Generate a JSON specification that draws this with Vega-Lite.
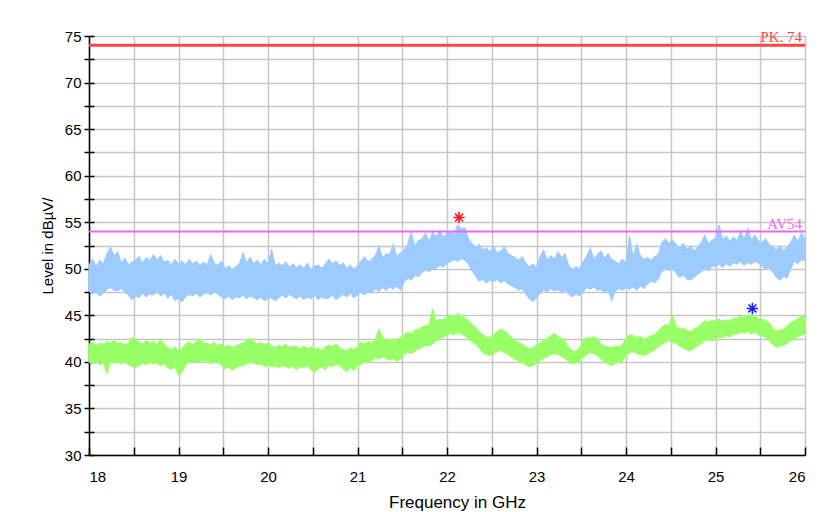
{
"$schema": "https://vega.github.io/schema/vega-lite/v6.json",
"autosize": "none",
"width": 716,
"height": 419,
"padding": {"left": 89, "top": 36, "right": 17, "bottom": 57},
"background": "white",
"config": {"view": {"stroke": null}, "font": "Liberation Sans"},
"datasets": {
"trace": [
{"f":18.00,"b0":47.6,"b1":50.4,"g0":40.0,"g1":41.9},
{"f":18.04,"b0":47.3,"b1":51.0,"g0":39.8,"g1":42.1},
{"f":18.08,"b0":47.5,"b1":50.2,"g0":40.1,"g1":41.7},
{"f":18.12,"b0":47.1,"b1":50.9,"g0":39.7,"g1":42.0},
{"f":18.16,"b0":47.4,"b1":50.5,"g0":39.9,"g1":41.8},
{"f":18.20,"b0":47.8,"b1":51.6,"g0":38.8,"g1":42.2},
{"f":18.24,"b0":48.0,"b1":52.3,"g0":40.0,"g1":42.0},
{"f":18.28,"b0":47.7,"b1":51.4,"g0":39.9,"g1":42.3},
{"f":18.32,"b0":47.6,"b1":51.8,"g0":40.1,"g1":41.9},
{"f":18.36,"b0":47.9,"b1":50.6,"g0":39.8,"g1":42.1},
{"f":18.40,"b0":47.5,"b1":51.1,"g0":40.0,"g1":41.8},
{"f":18.44,"b0":47.2,"b1":50.4,"g0":39.7,"g1":42.0},
{"f":18.48,"b0":46.7,"b1":50.7,"g0":39.5,"g1":42.6},
{"f":18.52,"b0":47.1,"b1":50.9,"g0":39.4,"g1":42.4},
{"f":18.56,"b0":46.9,"b1":51.3,"g0":39.6,"g1":42.1},
{"f":18.60,"b0":47.4,"b1":50.6,"g0":39.9,"g1":41.9},
{"f":18.64,"b0":47.0,"b1":51.2,"g0":39.7,"g1":42.3},
{"f":18.68,"b0":47.3,"b1":50.8,"g0":40.0,"g1":42.0},
{"f":18.72,"b0":47.2,"b1":51.5,"g0":39.8,"g1":42.2},
{"f":18.76,"b0":47.6,"b1":50.9,"g0":39.9,"g1":41.8},
{"f":18.80,"b0":47.1,"b1":51.4,"g0":39.6,"g1":42.4},
{"f":18.84,"b0":47.4,"b1":50.7,"g0":39.8,"g1":41.9},
{"f":18.88,"b0":46.9,"b1":50.9,"g0":39.4,"g1":41.5},
{"f":18.92,"b0":47.3,"b1":50.4,"g0":39.2,"g1":41.3},
{"f":18.96,"b0":46.6,"b1":51.0,"g0":39.5,"g1":41.6},
{"f":19.00,"b0":46.8,"b1":50.5,"g0":38.6,"g1":41.2},
{"f":19.04,"b0":46.5,"b1":50.8,"g0":38.9,"g1":41.4},
{"f":19.08,"b0":47.0,"b1":50.4,"g0":39.8,"g1":41.9},
{"f":19.12,"b0":47.3,"b1":51.0,"g0":40.0,"g1":42.1},
{"f":19.16,"b0":47.1,"b1":50.5,"g0":39.9,"g1":41.8},
{"f":19.20,"b0":47.4,"b1":50.8,"g0":40.1,"g1":42.2},
{"f":19.24,"b0":47.0,"b1":50.3,"g0":40.0,"g1":42.4},
{"f":19.28,"b0":47.3,"b1":50.7,"g0":40.2,"g1":42.0},
{"f":19.32,"b0":47.5,"b1":50.4,"g0":40.0,"g1":42.0},
{"f":19.36,"b0":47.2,"b1":51.5,"g0":39.8,"g1":41.8},
{"f":19.40,"b0":47.6,"b1":50.6,"g0":40.1,"g1":42.1},
{"f":19.44,"b0":47.3,"b1":50.3,"g0":39.9,"g1":41.7},
{"f":19.48,"b0":47.0,"b1":50.8,"g0":39.7,"g1":41.9},
{"f":19.52,"b0":46.8,"b1":50.0,"g0":39.3,"g1":41.6},
{"f":19.56,"b0":47.1,"b1":50.3,"g0":39.5,"g1":41.8},
{"f":19.60,"b0":46.7,"b1":49.9,"g0":39.1,"g1":41.5},
{"f":19.64,"b0":47.0,"b1":50.2,"g0":39.4,"g1":41.7},
{"f":19.68,"b0":46.9,"b1":50.5,"g0":39.6,"g1":41.9},
{"f":19.72,"b0":47.2,"b1":51.7,"g0":39.6,"g1":42.0},
{"f":19.76,"b0":46.8,"b1":50.6,"g0":39.8,"g1":42.3},
{"f":19.80,"b0":47.1,"b1":51.2,"g0":40.0,"g1":42.5},
{"f":19.84,"b0":46.9,"b1":50.5,"g0":39.9,"g1":42.2},
{"f":19.88,"b0":46.7,"b1":50.9,"g0":39.7,"g1":41.9},
{"f":19.92,"b0":47.0,"b1":50.4,"g0":39.8,"g1":42.1},
{"f":19.96,"b0":46.6,"b1":51.0,"g0":39.5,"g1":41.8},
{"f":20.00,"b0":46.8,"b1":50.5,"g0":39.7,"g1":42.0},
{"f":20.04,"b0":46.9,"b1":52.1,"g0":39.5,"g1":41.7},
{"f":20.08,"b0":46.6,"b1":50.3,"g0":39.6,"g1":41.5},
{"f":20.12,"b0":46.9,"b1":50.6,"g0":39.4,"g1":41.8},
{"f":20.16,"b0":47.2,"b1":50.3,"g0":39.6,"g1":41.6},
{"f":20.20,"b0":46.9,"b1":50.7,"g0":39.5,"g1":41.9},
{"f":20.24,"b0":47.3,"b1":50.2,"g0":39.3,"g1":41.5},
{"f":20.28,"b0":47.0,"b1":50.5,"g0":39.6,"g1":41.7},
{"f":20.32,"b0":46.8,"b1":50.1,"g0":39.2,"g1":41.6},
{"f":20.36,"b0":47.1,"b1":50.4,"g0":39.5,"g1":41.4},
{"f":20.40,"b0":46.7,"b1":50.0,"g0":39.4,"g1":41.7},
{"f":20.44,"b0":47.0,"b1":50.6,"g0":39.6,"g1":41.4},
{"f":20.48,"b0":46.8,"b1":49.9,"g0":39.2,"g1":41.6},
{"f":20.52,"b0":47.2,"b1":50.3,"g0":38.9,"g1":41.3},
{"f":20.56,"b0":46.7,"b1":50.4,"g0":39.3,"g1":41.5},
{"f":20.60,"b0":47.0,"b1":50.0,"g0":39.5,"g1":41.2},
{"f":20.64,"b0":46.8,"b1":50.5,"g0":39.2,"g1":41.6},
{"f":20.68,"b0":46.9,"b1":51.0,"g0":39.7,"g1":41.8},
{"f":20.72,"b0":47.2,"b1":50.5,"g0":39.5,"g1":41.6},
{"f":20.76,"b0":46.7,"b1":50.8,"g0":39.8,"g1":41.9},
{"f":20.80,"b0":47.0,"b1":50.3,"g0":39.6,"g1":41.5},
{"f":20.84,"b0":47.3,"b1":50.6,"g0":39.3,"g1":41.3},
{"f":20.88,"b0":47.0,"b1":50.0,"g0":39.0,"g1":41.2},
{"f":20.92,"b0":47.4,"b1":50.4,"g0":39.4,"g1":41.5},
{"f":20.96,"b0":46.9,"b1":49.9,"g0":39.1,"g1":41.3},
{"f":21.00,"b0":47.2,"b1":50.3,"g0":39.6,"g1":41.6},
{"f":21.04,"b0":47.5,"b1":50.8,"g0":39.8,"g1":42.1},
{"f":21.08,"b0":47.2,"b1":51.3,"g0":40.0,"g1":41.9},
{"f":21.12,"b0":47.6,"b1":50.7,"g0":39.9,"g1":42.2},
{"f":21.16,"b0":47.4,"b1":51.0,"g0":40.2,"g1":42.0},
{"f":21.20,"b0":47.9,"b1":51.4,"g0":40.5,"g1":42.4},
{"f":21.24,"b0":47.6,"b1":52.4,"g0":40.3,"g1":43.5},
{"f":21.28,"b0":48.0,"b1":51.1,"g0":40.6,"g1":42.6},
{"f":21.32,"b0":47.7,"b1":51.6,"g0":40.4,"g1":42.3},
{"f":21.36,"b0":48.1,"b1":51.5,"g0":40.2,"g1":42.5},
{"f":21.40,"b0":47.8,"b1":52.6,"g0":40.4,"g1":42.2},
{"f":21.44,"b0":48.2,"b1":51.3,"g0":40.1,"g1":42.4},
{"f":21.48,"b0":47.7,"b1":51.7,"g0":40.3,"g1":42.6},
{"f":21.52,"b0":48.6,"b1":52.0,"g0":40.8,"g1":42.9},
{"f":21.56,"b0":49.0,"b1":52.6,"g0":41.1,"g1":43.2},
{"f":21.60,"b0":48.8,"b1":53.9,"g0":40.9,"g1":43.0},
{"f":21.64,"b0":49.3,"b1":52.4,"g0":41.2,"g1":43.4},
{"f":21.68,"b0":49.2,"b1":53.0,"g0":41.4,"g1":43.5},
{"f":21.72,"b0":49.6,"b1":53.2,"g0":41.6,"g1":43.7},
{"f":21.76,"b0":49.9,"b1":53.8,"g0":41.8,"g1":43.9},
{"f":21.80,"b0":49.7,"b1":52.9,"g0":41.7,"g1":44.0},
{"f":21.84,"b0":50.0,"b1":53.9,"g0":42.0,"g1":45.7},
{"f":21.88,"b0":50.1,"b1":53.4,"g0":42.3,"g1":44.3},
{"f":21.92,"b0":50.4,"b1":54.1,"g0":42.5,"g1":44.6},
{"f":21.96,"b0":50.2,"b1":53.3,"g0":42.7,"g1":44.5},
{"f":22.00,"b0":50.6,"b1":53.9,"g0":42.9,"g1":44.8},
{"f":22.04,"b0":50.8,"b1":54.0,"g0":43.1,"g1":45.0},
{"f":22.08,"b0":51.0,"b1":53.7,"g0":42.9,"g1":44.8},
{"f":22.12,"b0":50.8,"b1":54.7,"g0":43.2,"g1":45.2},
{"f":22.16,"b0":51.1,"b1":54.3,"g0":43.0,"g1":44.9},
{"f":22.20,"b0":50.9,"b1":54.4,"g0":42.8,"g1":44.7},
{"f":22.24,"b0":50.5,"b1":53.2,"g0":42.4,"g1":44.4},
{"f":22.28,"b0":49.8,"b1":52.7,"g0":42.2,"g1":44.0},
{"f":22.32,"b0":49.2,"b1":52.3,"g0":41.9,"g1":43.7},
{"f":22.36,"b0":48.7,"b1":52.6,"g0":41.5,"g1":43.2},
{"f":22.40,"b0":48.9,"b1":52.0,"g0":41.0,"g1":42.9},
{"f":22.44,"b0":48.5,"b1":52.2,"g0":40.8,"g1":42.7},
{"f":22.48,"b0":48.8,"b1":51.8,"g0":40.7,"g1":42.6},
{"f":22.52,"b0":48.6,"b1":52.4,"g0":40.9,"g1":42.9},
{"f":22.56,"b0":48.9,"b1":51.7,"g0":41.1,"g1":43.2},
{"f":22.60,"b0":48.5,"b1":51.9,"g0":41.3,"g1":43.5},
{"f":22.64,"b0":48.8,"b1":52.3,"g0":41.0,"g1":43.3},
{"f":22.68,"b0":48.4,"b1":51.6,"g0":40.8,"g1":43.0},
{"f":22.72,"b0":48.2,"b1":51.4,"g0":40.5,"g1":42.6},
{"f":22.76,"b0":48.0,"b1":51.2,"g0":40.3,"g1":42.3},
{"f":22.80,"b0":47.7,"b1":50.9,"g0":40.1,"g1":42.1},
{"f":22.84,"b0":47.9,"b1":51.3,"g0":39.9,"g1":41.9},
{"f":22.88,"b0":47.3,"b1":50.6,"g0":39.7,"g1":41.6},
{"f":22.92,"b0":46.8,"b1":50.2,"g0":39.5,"g1":41.4},
{"f":22.96,"b0":46.5,"b1":50.5,"g0":39.6,"g1":41.5},
{"f":23.00,"b0":46.9,"b1":50.1,"g0":39.9,"g1":41.8},
{"f":23.04,"b0":47.4,"b1":51.3,"g0":40.2,"g1":42.0},
{"f":23.08,"b0":47.8,"b1":52.0,"g0":40.4,"g1":42.3},
{"f":23.12,"b0":47.5,"b1":50.9,"g0":40.6,"g1":42.5},
{"f":23.16,"b0":47.9,"b1":51.4,"g0":40.8,"g1":42.8},
{"f":23.20,"b0":47.6,"b1":51.0,"g0":40.9,"g1":43.0},
{"f":23.24,"b0":47.8,"b1":51.8,"g0":40.8,"g1":42.7},
{"f":23.28,"b0":47.4,"b1":51.2,"g0":40.6,"g1":42.5},
{"f":23.32,"b0":47.7,"b1":51.6,"g0":40.4,"g1":42.2},
{"f":23.36,"b0":47.3,"b1":50.3,"g0":40.0,"g1":41.5},
{"f":23.40,"b0":47.0,"b1":49.9,"g0":39.8,"g1":41.2},
{"f":23.44,"b0":47.3,"b1":50.2,"g0":39.9,"g1":41.1},
{"f":23.48,"b0":47.1,"b1":50.0,"g0":40.1,"g1":41.5},
{"f":23.52,"b0":47.5,"b1":50.7,"g0":40.5,"g1":42.2},
{"f":23.56,"b0":48.0,"b1":51.3,"g0":40.8,"g1":42.6},
{"f":23.60,"b0":47.8,"b1":52.2,"g0":41.0,"g1":42.5},
{"f":23.64,"b0":48.1,"b1":51.0,"g0":40.9,"g1":42.7},
{"f":23.68,"b0":47.7,"b1":51.5,"g0":40.7,"g1":42.4},
{"f":23.72,"b0":47.8,"b1":51.9,"g0":40.3,"g1":41.9},
{"f":23.76,"b0":47.5,"b1":51.1,"g0":40.0,"g1":41.7},
{"f":23.80,"b0":47.7,"b1":51.6,"g0":39.8,"g1":41.6},
{"f":23.84,"b0":46.6,"b1":51.0,"g0":39.6,"g1":41.5},
{"f":23.88,"b0":47.6,"b1":50.8,"g0":39.9,"g1":41.7},
{"f":23.92,"b0":47.9,"b1":50.5,"g0":40.0,"g1":41.6},
{"f":23.96,"b0":47.7,"b1":51.0,"g0":40.1,"g1":41.8},
{"f":24.00,"b0":48.0,"b1":50.6,"g0":40.7,"g1":42.5},
{"f":24.04,"b0":47.8,"b1":53.5,"g0":41.0,"g1":42.9},
{"f":24.08,"b0":48.1,"b1":51.2,"g0":41.1,"g1":42.8},
{"f":24.12,"b0":47.7,"b1":52.6,"g0":40.9,"g1":42.6},
{"f":24.16,"b0":48.2,"b1":51.4,"g0":40.8,"g1":42.7},
{"f":24.20,"b0":47.9,"b1":51.0,"g0":40.7,"g1":42.4},
{"f":24.24,"b0":48.4,"b1":51.2,"g0":40.9,"g1":42.6},
{"f":24.28,"b0":48.7,"b1":50.9,"g0":41.1,"g1":42.8},
{"f":24.32,"b0":48.5,"b1":51.3,"g0":41.3,"g1":42.9},
{"f":24.36,"b0":48.9,"b1":51.5,"g0":41.6,"g1":43.3},
{"f":24.40,"b0":49.7,"b1":52.8,"g0":41.9,"g1":43.7},
{"f":24.44,"b0":50.0,"b1":53.2,"g0":42.2,"g1":44.0},
{"f":24.48,"b0":49.8,"b1":52.7,"g0":42.3,"g1":43.9},
{"f":24.52,"b0":50.1,"b1":53.1,"g0":42.1,"g1":45.0},
{"f":24.56,"b0":49.5,"b1":52.6,"g0":42.0,"g1":43.8},
{"f":24.60,"b0":49.1,"b1":52.2,"g0":41.7,"g1":43.5},
{"f":24.64,"b0":49.4,"b1":52.7,"g0":41.5,"g1":43.6},
{"f":24.68,"b0":48.9,"b1":52.0,"g0":41.3,"g1":43.4},
{"f":24.72,"b0":48.8,"b1":52.4,"g0":41.2,"g1":43.2},
{"f":24.76,"b0":49.1,"b1":51.9,"g0":41.5,"g1":43.5},
{"f":24.80,"b0":49.4,"b1":52.3,"g0":41.7,"g1":43.7},
{"f":24.84,"b0":49.7,"b1":52.8,"g0":42.0,"g1":44.0},
{"f":24.88,"b0":50.1,"b1":53.6,"g0":42.3,"g1":44.4},
{"f":24.92,"b0":49.8,"b1":52.7,"g0":42.4,"g1":44.2},
{"f":24.96,"b0":50.3,"b1":53.0,"g0":42.2,"g1":44.5},
{"f":25.00,"b0":50.2,"b1":53.3,"g0":42.5,"g1":44.3},
{"f":25.04,"b0":50.5,"b1":54.7,"g0":42.7,"g1":44.6},
{"f":25.08,"b0":50.2,"b1":53.1,"g0":42.6,"g1":44.3},
{"f":25.12,"b0":50.6,"b1":53.5,"g0":42.9,"g1":44.5},
{"f":25.16,"b0":50.3,"b1":52.9,"g0":42.7,"g1":44.4},
{"f":25.20,"b0":50.7,"b1":53.4,"g0":43.0,"g1":44.7},
{"f":25.24,"b0":50.5,"b1":53.0,"g0":43.0,"g1":44.6},
{"f":25.28,"b0":50.8,"b1":54.0,"g0":43.2,"g1":44.9},
{"f":25.32,"b0":50.4,"b1":53.2,"g0":43.1,"g1":44.7},
{"f":25.36,"b0":50.7,"b1":54.3,"g0":43.3,"g1":45.1},
{"f":25.40,"b0":50.5,"b1":53.1,"g0":43.0,"g1":44.8},
{"f":25.44,"b0":50.8,"b1":53.6,"g0":43.2,"g1":44.9},
{"f":25.48,"b0":50.6,"b1":53.0,"g0":42.9,"g1":44.6},
{"f":25.52,"b0":50.3,"b1":52.8,"g0":42.8,"g1":44.6},
{"f":25.56,"b0":50.0,"b1":53.2,"g0":42.6,"g1":44.4},
{"f":25.60,"b0":50.2,"b1":52.6,"g0":42.3,"g1":44.2},
{"f":25.64,"b0":49.6,"b1":52.4,"g0":41.9,"g1":43.6},
{"f":25.68,"b0":49.1,"b1":52.0,"g0":41.6,"g1":43.3},
{"f":25.72,"b0":48.8,"b1":52.5,"g0":41.7,"g1":43.4},
{"f":25.76,"b0":49.2,"b1":51.9,"g0":41.8,"g1":43.5},
{"f":25.80,"b0":49.0,"b1":52.3,"g0":42.0,"g1":43.8},
{"f":25.84,"b0":50.0,"b1":52.8,"g0":42.3,"g1":44.2},
{"f":25.88,"b0":50.8,"b1":53.6,"g0":42.5,"g1":44.4},
{"f":25.92,"b0":50.6,"b1":52.9,"g0":42.7,"g1":44.6},
{"f":25.96,"b0":51.0,"b1":53.8,"g0":42.9,"g1":44.9},
{"f":26.00,"b0":50.9,"b1":53.2,"g0":43.0,"g1":44.8}
],
"limits": [
{"name": "PK. 74", "v": 74},
{"name": "AV54", "v": 54}
],
"markers": [
{"m": "PK", "f": 22.134, "v": 55.5},
{"m": "AV", "f": 25.412, "v": 45.74}
]
},
"resolve": {"axis": {"x": "independent", "y": "independent"}},
"layer": [
{
"data": {"name": "trace"},
"mark": {"type": "area", "color": "#9ecbff", "stroke": "#9ecbff", "strokeWidth": 1.2, "strokeJoin": "miter"},
"encoding": {
"x": {"field": "f", "type": "quantitative",
"scale": {"domain": [18, 26], "nice": false, "zero": false},
"axis": {"orient": "bottom", "values": [18,18.5,19,19.5,20,20.5,21,21.5,22,22.5,23,23.5,24,24.5,25,25.5,26],
"labelExpr": "datum.value % 1 === 0 ? format(datum.value, 'd') : ''", "labelOverlap": false,
"labelFontSize": 15, "labelColor": "#000", "labelPadding": 14, "labelFont": "Liberation Sans",
"ticks": false, "domain": true, "domainColor": "#000", "domainWidth": 1.5,
"grid": true, "gridColor": "#c6c6c6", "gridWidth": 1.5,
"title": "Frequency in GHz", "titleX": 368, "titleFontSize": 17, "titleFontWeight": "normal", "titleColor": "#000", "titleFont": "Liberation Sans", "titlePadding": 10}},
"y": {"field": "b0", "type": "quantitative",
"scale": {"domain": [30, 75], "nice": false, "zero": false},
"axis": {"orient": "left", "values": [30,32.5,35,37.5,40,42.5,45,47.5,50,52.5,55,57.5,60,62.5,65,67.5,70,72.5,75],
"labelExpr": "datum.value % 5 === 0 ? datum.label : ''", "labelOverlap": false,
"labelFontSize": 15, "labelColor": "#000", "labelPadding": 3, "labelFont": "Liberation Sans",
"ticks": true, "tickSize": 5, "tickColor": "#000", "tickWidth": 1.5,
"domain": true, "domainColor": "#000", "domainWidth": 1.5,
"grid": true, "gridColor": "#c6c6c6", "gridWidth": 1.5,
"title": "Level in dBµV/", "titleFontSize": 15, "titleFontWeight": "normal", "titleColor": "#000", "titleFont": "Liberation Sans", "titlePadding": 9}},
"y2": {"field": "b1"}
}
},
{
"data": {"name": "trace"},
"mark": {"type": "area", "color": "#99ff66", "stroke": "#99ff66", "strokeWidth": 1.2, "strokeJoin": "miter"},
"encoding": {
"x": {"field": "f", "type": "quantitative",
"scale": {"domain": [18, 26], "nice": false, "zero": false},
"axis": {"orient": "bottom", "offset": -8, "values": [18,18.5,19,19.5,20,20.5,21,21.5,22,22.5,23,23.5,24,24.5,25,25.5,26],
"labels": false, "domain": false, "grid": false, "ticks": true, "tickSize": 8, "tickColor": "#000", "tickWidth": 1.5, "title": null}},
"y": {"field": "g0", "type": "quantitative",
"scale": {"domain": [30, 75], "nice": false, "zero": false},
"axis": {"orient": "left", "offset": -5, "values": [30,32.5,35,37.5,40,42.5,45,47.5,50,52.5,55,57.5,60,62.5,65,67.5,70,72.5,75],
"labels": false, "domain": false, "grid": false, "ticks": true, "tickSize": 5, "tickColor": "#000", "tickWidth": 1.5, "title": null}},
"y2": {"field": "g1"}
}
},
{
"data": {"name": "limits"},
"mark": {"type": "rule"},
"encoding": {
"y": {"field": "v", "type": "quantitative", "axis": null},
"color": {"field": "name", "type": "nominal", "scale": {"domain": ["PK. 74", "AV54"], "range": ["#ff4545", "#ee66ee"]}, "legend": null},
"strokeWidth": {"field": "name", "type": "nominal", "scale": {"domain": ["PK. 74", "AV54"], "range": [3, 2]}, "legend": null}
}
},
{
"data": {"name": "limits"},
"mark": {"type": "text", "align": "right", "baseline": "alphabetic", "dx": -3, "dy": -3, "font": "Liberation Serif", "fontSize": 15},
"encoding": {
"x": {"datum": 26, "type": "quantitative", "axis": null},
"y": {"field": "v", "type": "quantitative", "axis": null},
"text": {"field": "name"},
"color": {"field": "name", "type": "nominal", "scale": {"domain": ["PK. 74", "AV54"], "range": ["#ff6a6a", "#ff77ff"]}, "legend": null}
}
},
{
"data": {"name": "markers"},
"mark": {"type": "point", "shape": "M-1,0L1,0M0,-1L0,1M-0.7,-0.7L0.7,0.7M-0.7,0.7L0.7,-0.7", "filled": false, "size": 130, "strokeWidth": 1.6, "opacity": 1},
"encoding": {
"x": {"field": "f", "type": "quantitative", "axis": null},
"y": {"field": "v", "type": "quantitative", "axis": null},
"stroke": {"field": "m", "type": "nominal", "scale": {"domain": ["PK", "AV"], "range": ["#ff1a1a", "#1a1aff"]}, "legend": null}
}
}
]
}
